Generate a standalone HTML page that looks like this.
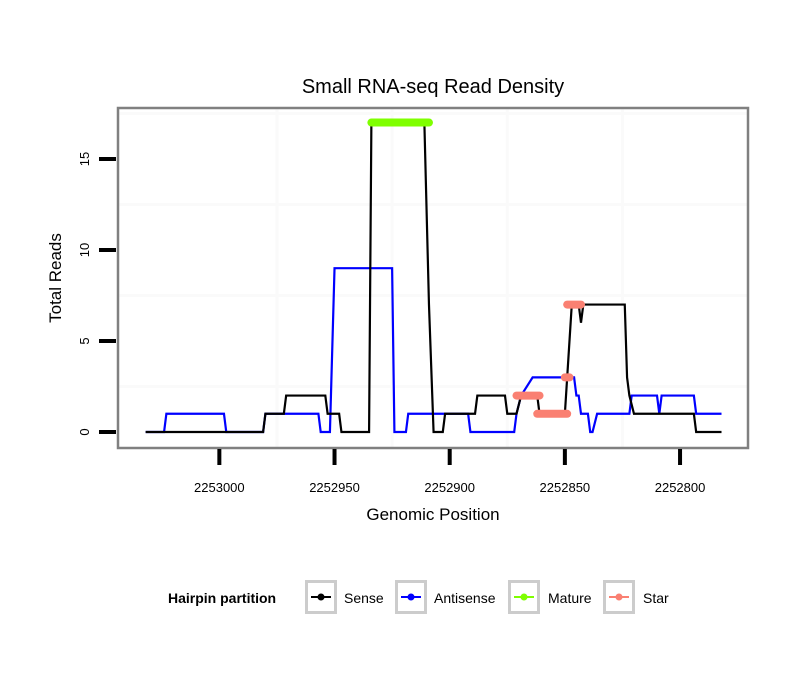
<!DOCTYPE html>
<html><head><meta charset="utf-8"><style>
body{margin:0;background:#fff;}
svg text{font-family:"Liberation Sans",sans-serif;}
</style></head><body>
<svg id="chart" width="810" height="690" xmlns="http://www.w3.org/2000/svg">
<rect width="810" height="690" fill="#fff"/>
<text x="433" y="93" font-size="20" text-anchor="middle">Small RNA-seq Read Density</text>
<g id="grid"></g>
<g id="series"></g>
<rect x="118" y="108" width="630" height="340" fill="none" stroke="#808080" stroke-width="2.5"/>
<g id="axes"></g>
<text x="433" y="520" font-size="17" text-anchor="middle">Genomic Position</text>
<text transform="translate(61,278) rotate(-90)" font-size="17" text-anchor="middle">Total Reads</text>
<g>
<text x="168" y="603" font-size="14" font-weight="bold">Hairpin partition</text>
<g id="legend"></g>
</g>
</svg>
<script>
const xTicks=[2253000,2252950,2252900,2252850,2252800];
const yTicks=[0,5,10,15];
const sensePos=[2253032,2252981,2252980,2252972,2252971,2252954,2252953,2252948,2252947,2252935,2252934,2252911,2252909,2252907,2252903,2252902,2252889,2252888,2252876,2252875,2252871,2252869,2252862,2252861,2252850,2252849,2252847,2252844,2252843,2252842,2252824,2252823,2252822,2252820,2252794,2252793,2252782];
const senseVal=[0,0,1,1,2,2,1,1,0,0,17,17,7,0,0,1,1,2,2,1,1,2,2,1,1,3,7,7,6,7,7,3,2,1,1,0,0];
const antiPos=[2253032,2253024,2253023,2252998,2252997,2252981,2252980,2252957,2252956,2252952,2252950,2252925,2252924,2252919,2252918,2252892,2252891,2252872,2252871,2252869,2252864,2252846,2252845,2252844,2252843,2252840,2252839,2252838,2252836,2252822,2252821,2252810,2252809,2252808,2252794,2252793,2252782];
const antiVal=[0,0,1,1,0,0,1,1,0,0,9,9,0,0,1,1,0,0,1,2,3,3,2,2,1,1,0,0,1,1,2,2,1,2,2,1,1];
const matureStart=[2252934];const matureEnd=[2252909];const matureVal=[17];
const starStart=[2252871,2252862,2252850,2252849];
const starEnd=[2252861,2252849,2252848,2252843];
const starVal=[2,1,3,7];
const legendLabels=["Sense","Antisense","Mature","Star"];
const legendColors=["#000000","#0000ff","#7fff00","#fa8072"];

const X0=2253044,X1=2252770.5,PX0=118,PX1=748;
const Y0=-0.88,Y1=17.8,PY0=448,PY1=108;
const xs=v=>PX0+(X0-v)/(X0-X1)*(PX1-PX0);
const ys=v=>PY0-(v-Y0)/(Y1-Y0)*(PY0-PY1);
const NS="http://www.w3.org/2000/svg";
function mk(tag,attrs,parent){const e=document.createElementNS(NS,tag);for(const k in attrs)e.setAttribute(k,attrs[k]);parent.appendChild(e);return e;}
const grid=document.getElementById('grid'),ser=document.getElementById('series'),axes=document.getElementById('axes'),leg=document.getElementById('legend');
for(let i=0;i<xTicks.length-1;i++){const m=(xTicks[i]+xTicks[i+1])/2;
 const l=mk('line',{x1:xs(m),x2:xs(m),y1:PY1,y2:PY0,stroke:'#fafafa','stroke-width':3},grid);
 
 }
for(let i=0;i<yTicks.length;i++){const m=yTicks[i]+2.5;if(ys(m)>PY1){
 const l=mk('line',{x1:PX0,x2:PX1,y1:ys(m),y2:ys(m),stroke:'#fafafa','stroke-width':3},grid);
 
 }}
function poly(P,V,color,name){const pts=P.map((p,i)=>xs(p)+','+ys(V[i])).join(' ');
 const e=mk('polyline',{points:pts,fill:'none',stroke:color,'stroke-width':2.2,'stroke-linejoin':'miter'},ser);
 
 }
poly(antiPos,antiVal,'#0000ff','antisense-line');
poly(sensePos,senseVal,'#000000','sense-line');
function segs(S,E,V,color,name){for(let i=0;i<S.length;i++){
 const e=mk('line',{x1:xs(S[i]),x2:xs(E[i]),y1:ys(V[i]),y2:ys(V[i]),stroke:color,'stroke-width':8,'stroke-linecap':'round'},ser);
 
 }}
segs(matureStart,matureEnd,matureVal,'#7fff00','mature-segment');
segs(starStart,starEnd,starVal,'#fa8072','star-segment');
xTicks.forEach(t=>{const x=xs(t);
 const l=mk('line',{x1:x,x2:x,y1:449,y2:465,stroke:'#000','stroke-width':4},axes);
 
 
 const tx=mk('text',{x:x,y:492,'font-size':13,'text-anchor':'middle'},axes);tx.textContent=t;
 
 });
yTicks.forEach(t=>{const y=ys(t);
 const l=mk('line',{x1:99,x2:116,y1:y,y2:y,stroke:'#000','stroke-width':4},axes);
 
 
 const tx=mk('text',{transform:`translate(89,${y}) rotate(-90)`,'font-size':13,'text-anchor':'middle'},axes);tx.textContent=t;
 
 });
const boxX=[305,395,508,603],txtX=[344,434,548,643];
legendLabels.forEach((lab,i)=>{const g=mk('g',{},leg);
 
 
 mk('rect',{x:boxX[i]+1.5,y:581.5,width:29,height:31,fill:'#fff',stroke:'#cccccc','stroke-width':3},g);
 mk('line',{x1:boxX[i]+6,x2:boxX[i]+26,y1:597,y2:597,stroke:legendColors[i],'stroke-width':2},g);
 mk('circle',{cx:boxX[i]+16,cy:597,r:3.5,fill:legendColors[i]},g);
 const tx=mk('text',{x:txtX[i],y:603,'font-size':14},g);tx.textContent=lab;});
</script>
</body></html>
